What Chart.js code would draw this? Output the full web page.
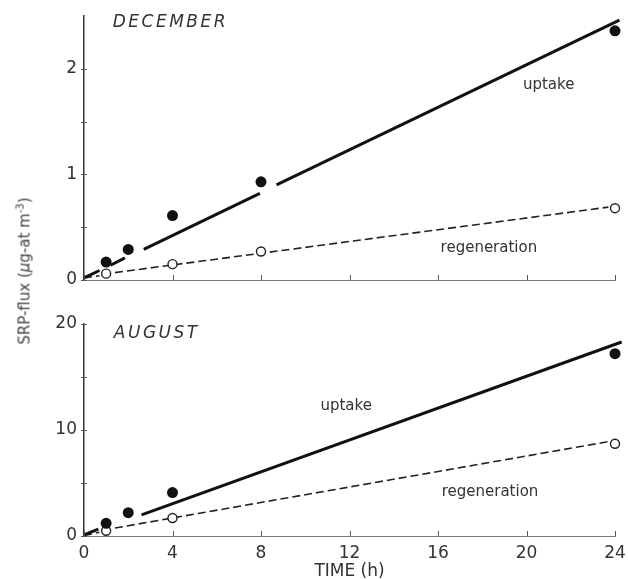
<!DOCTYPE html>
<html>
<head>
<meta charset="utf-8">
<script src="https://cdn.jsdelivr.net/npm/chart.js@4.4.1/dist/chart.umd.min.js"></script>
<style>
  html, body { margin: 0; padding: 0; background: #fff; }
  #wrap { position: relative; width: 628px; height: 579px; overflow: hidden; }
  canvas { position: absolute; left: 0; }
  #decChart { top: 0; }
  #augChart { top: 290px; }
  #ytitle {
    position: absolute; left: 24px; top: 271px;
    transform: translate(-50%, -50%) rotate(-90deg);
    white-space: nowrap; font: 15px "DejaVu Sans", sans-serif; color: #444;
  }
  #ytitle sup { font-size: 10px; }
</style>
</head>
<body>
<div id="wrap">
  <canvas id="decChart" width="628" height="290"></canvas>
  <canvas id="augChart" width="628" height="289"></canvas>
  <div id="ytitle">SRP-flux (<i>µ</i>g-at m<sup>-3</sup>)</div>
</div>
<script>
// ---- December measurements ----
const decHours = [1, 2, 4, 8, 24];
const decUptake = [0.17, 0.29, 0.61, 0.93, 2.36];
const decRegenHours = [1, 4, 8, 24];
const decRegen = [0.06, 0.15, 0.27, 0.68];

// December fitted lines (null = break in the line around a symbol)
const decUptakeFitX = [0, 0.7, 1, 1.2, 1.85, 2, 2.7, 7.95, 8, 8.7, 24.2];
const decUptakeFitY = [0.02, 0.09, null, 0.14, 0.21, null, 0.29, 0.82, null, 0.9, 2.46];
const decRegenFitX = [0, 0.7, 1, 1.4, 23.7];
const decRegenFitY = [0.02, 0.04, null, 0.07, 0.69];

// ---- August measurements ----
const augHours = [1, 2, 4, 24];
const augUptake = [1.2, 2.2, 4.1, 17.2];
const augRegenHours = [1, 4, 24];
const augRegen = [0.5, 1.7, 8.7];

// August fitted lines
const augUptakeFitX = [0, 0.65, 1, 2.6, 24.3];
const augUptakeFitY = [0.1, 0.65, null, 2.0, 18.3];
const augRegenFitX = [0, 0.7, 1, 1.4, 23.7];
const augRegenFitY = [0.05, 0.35, null, 0.75, 8.9];

// ---- axis ticks ----
const timeTicks = [0, 4, 8, 12, 16, 20, 24];
const decTicks = [0, 0.5, 1, 1.5, 2];
const augTicks = [0, 5, 10, 15, 20];

const FONT = '"DejaVu Sans", sans-serif';
const INK = '#333';

function pts(xs, ys) { return xs.map((x, i) => ({ x: x, y: ys[i] })); }

// short tick marks along both axes
const tickMarks = {
  id: 'tickMarks',
  afterDraw(chart, args, opts) {
    const ctx = chart.ctx, x = chart.scales.x, y = chart.scales.y;
    ctx.save();
    ctx.lineWidth = 1;
    ctx.strokeStyle = '#555';
    ctx.beginPath();
    opts.xTicks.forEach(v => {
      const px = Math.round(x.getPixelForValue(v)) + 0.5;
      ctx.moveTo(px, y.bottom); ctx.lineTo(px, y.bottom - 5);
    });
    opts.yTicks.forEach(v => {
      const py = Math.round(y.getPixelForValue(v)) + 0.5;
      ctx.moveTo(x.left - 3, py); ctx.lineTo(x.left + 3, py);
    });
    ctx.stroke();
    ctx.restore();
  }
};

// in-plot text labels, placed in data units
const plotLabels = {
  id: 'plotLabels',
  afterDraw(chart, args, opts) {
    const ctx = chart.ctx, x = chart.scales.x, y = chart.scales.y;
    ctx.save();
    ctx.fillStyle = INK;
    ctx.textBaseline = 'middle';
    opts.items.forEach(it => {
      ctx.font = (it.italic ? 'italic ' : '') + it.size + 'px ' + FONT;
      ctx.letterSpacing = (it.spacing || 0) + 'px';
      ctx.textAlign = it.align || 'center';
      ctx.fillText(it.text, x.getPixelForValue(it.x), y.getPixelForValue(it.y));
    });
    ctx.restore();
  }
};

function makeChart(id, cfg) {
  return new Chart(document.getElementById(id), {
    type: 'scatter',
    data: {
      datasets: [
        { data: pts(cfg.hours, cfg.uptake), pointRadius: 5.5, pointBackgroundColor: '#111',
          pointBorderColor: '#111', pointBorderWidth: 0, showLine: false, clip: false },
        { data: pts(cfg.regenHours, cfg.regen), pointRadius: 4.5, pointBackgroundColor: '#fff',
          pointBorderColor: '#222', pointBorderWidth: 1.4, showLine: false, clip: false },
        { data: pts(cfg.upFitX, cfg.upFitY), showLine: true, spanGaps: false, pointRadius: 0,
          borderColor: '#111', borderWidth: 3, clip: false },
        { data: pts(cfg.regFitX, cfg.regFitY), showLine: true, spanGaps: false, pointRadius: 0,
          borderColor: '#222', borderWidth: 1.6, borderDash: [8, 4], clip: false }
      ]
    },
    options: {
      responsive: false,
      animation: false,
      devicePixelRatio: 1,
      layout: { padding: { left: 0, right: 13, top: cfg.padTop, bottom: 0 } },
      plugins: {
        legend: { display: false },
        tooltip: { enabled: false },
        tickMarks: { xTicks: timeTicks, yTicks: cfg.yTicks },
        plotLabels: { items: cfg.labels }
      },
      scales: {
        x: {
          type: 'linear', min: 0, max: 24,
          afterFit: s => { s.height = cfg.xHeight; s.paddingLeft = 0; s.paddingRight = 0; },
          grid: { display: true, drawOnChartArea: false, drawTicks: false },
          border: { display: true, color: '#777', width: 1 },
          ticks: { display: cfg.showX, stepSize: 4, padding: 7, color: INK,
                   font: { family: FONT, size: 17 } },
          title: { display: cfg.showX, text: 'TIME (h)', color: INK,
                   font: { family: FONT, size: 17 }, padding: { top: 0, bottom: -3 } }
        },
        y: {
          min: 0, max: cfg.yMax,
          afterFit: s => { s.width = 84; s.paddingTop = 0; s.paddingBottom = 0; },
          grid: { display: true, drawOnChartArea: false, drawTicks: false },
          border: { display: true, color: '#333', width: 1.5 },
          ticks: {
            stepSize: cfg.yStep, padding: 7, color: INK,
            font: { family: FONT, size: 17 },
            callback: v => (v > cfg.yTop ? null : (v % cfg.yMajor === 0 ? String(v) : ''))
          }
        }
      }
    },
    plugins: [tickMarks, plotLabels]
  });
}

makeChart('decChart', {
  hours: decHours, uptake: decUptake, regenHours: decRegenHours, regen: decRegen,
  upFitX: decUptakeFitX, upFitY: decUptakeFitY, regFitX: decRegenFitX, regFitY: decRegenFitY,
  yMax: 2.5, yStep: 0.5, yMajor: 1, yTop: 2, yTicks: decTicks,
  padTop: 16, xHeight: 10, showX: false,
  labels: [
    { text: 'DECEMBER', x: 1.3, y: 2.44, size: 17, italic: true, spacing: 2.5, align: 'left' },
    { text: 'uptake', x: 21.0, y: 1.85, size: 15 },
    { text: 'regeneration', x: 18.3, y: 0.30, size: 15 }
  ]
});

makeChart('augChart', {
  hours: augHours, uptake: augUptake, regenHours: augRegenHours, regen: augRegen,
  upFitX: augUptakeFitX, upFitY: augUptakeFitY, regFitX: augRegenFitX, regFitY: augRegenFitY,
  yMax: 20, yStep: 5, yMajor: 10, yTop: 20, yTicks: augTicks,
  padTop: 34, xHeight: 43, showX: true,
  labels: [
    { text: 'AUGUST', x: 1.35, y: 19.05, size: 17, italic: true, spacing: 2.5, align: 'left' },
    { text: 'uptake', x: 11.85, y: 12.3, size: 15 },
    { text: 'regeneration', x: 18.35, y: 4.17, size: 15 }
  ]
});
</script>
</body>
</html>
